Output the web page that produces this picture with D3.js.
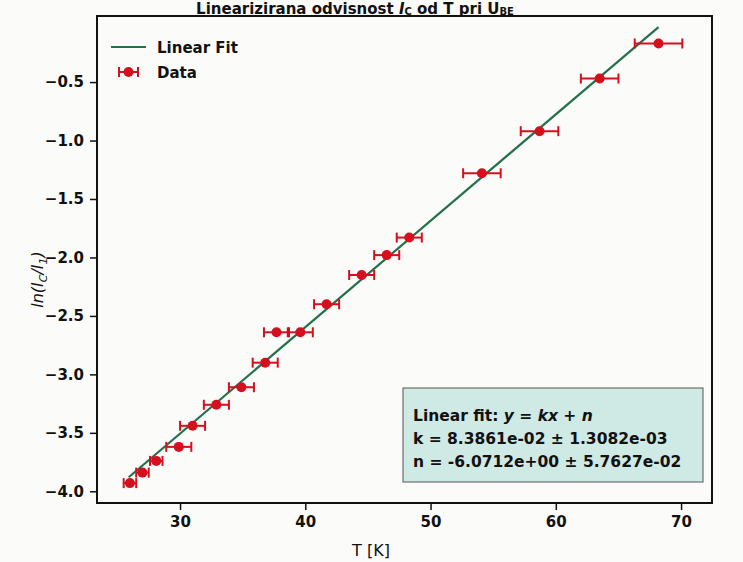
<!DOCTYPE html>
<html>
<head>
    <meta charset="utf-8" />
    <script src="https://d3js.org/d3.v7.min.js"></script>
    <style>
        body { margin: 0; background: #fbfbf9; }
        svg { font-family: "DejaVu Sans", sans-serif; }
    </style>
</head>
<body>
    <div id="chart"></div>
    <script>

        // measured points: temperature, ln(Ic/I1), x error
        const temps = [26.0, 27.0, 28.1, 29.9, 31.0, 32.9, 34.9, 36.8, 37.7, 39.6, 41.7, 44.5, 46.5, 48.3, 54.1, 58.7, 63.5, 68.2];
        const lnRatio = [-3.93, -3.84, -3.74, -3.62, -3.44, -3.26, -3.11, -2.90, -2.64, -2.64, -2.40, -2.15, -1.98, -1.83, -1.28, -0.92, -0.47, -0.17];
        const tempErr = [0.5, 0.5, 0.5, 1.0, 1.0, 1.0, 1.0, 1.0, 1.0, 1.0, 1.0, 1.0, 1.0, 1.0, 1.5, 1.5, 1.5, 1.9];

        // fit line as drawn
        const fitT = [25.9, 68.2];
        const fitY = [-3.88, -0.03];

        const xTicks = [30, 40, 50, 60, 70];
        const yTicks = [-0.5, -1.0, -1.5, -2.0, -2.5, -3.0, -3.5, -4.0];

        const svgWidth = 743;
        const svgHeight = 562;
        const margin = { top: 16, right: 31, bottom: 59, left: 97 };
        const chartWidth = svgWidth - margin.left - margin.right;
        const chartHeight = svgHeight - margin.top - margin.bottom;

        const svg = d3.select("#chart")
            .append("svg")
            .attr("width", svgWidth)
            .attr("height", svgHeight);

        const chart = svg.append("g")
            .attr("transform", `translate(${margin.left}, ${margin.top})`);

        // scales
        const xScale = d3.scaleLinear()
            .domain([23.37, 72.47])
            .range([0, chartWidth]);

        const yScale = d3.scaleLinear()
            .domain([-4.10, 0.065])
            .range([chartHeight, 0]);

        const red = "#d4101e";
        const green = "#23704a";

        // fit line
        chart.append("line")
            .attr("x1", xScale(fitT[0]))
            .attr("y1", yScale(fitY[0]))
            .attr("x2", xScale(fitT[1]))
            .attr("y2", yScale(fitY[1]))
            .attr("stroke", green)
            .attr("stroke-width", 2.2);

        // error bars
        const pts = temps.map((t, i) => ({ t: t, y: lnRatio[i], e: tempErr[i] }));
        const errs = chart.selectAll(".err")
            .data(pts)
            .enter().append("g")
            .attr("class", "err")
            .attr("stroke", red)
            .attr("stroke-width", 2);

        errs.append("line")
            .attr("x1", d => xScale(d.t - d.e))
            .attr("x2", d => xScale(d.t + d.e))
            .attr("y1", d => yScale(d.y))
            .attr("y2", d => yScale(d.y));
        errs.append("line")
            .attr("x1", d => xScale(d.t - d.e))
            .attr("x2", d => xScale(d.t - d.e))
            .attr("y1", d => yScale(d.y) - 5)
            .attr("y2", d => yScale(d.y) + 5);
        errs.append("line")
            .attr("x1", d => xScale(d.t + d.e))
            .attr("x2", d => xScale(d.t + d.e))
            .attr("y1", d => yScale(d.y) - 5)
            .attr("y2", d => yScale(d.y) + 5);

        chart.selectAll(".dot")
            .data(pts)
            .enter().append("circle")
            .attr("class", "dot")
            .attr("cx", d => xScale(d.t))
            .attr("cy", d => yScale(d.y))
            .attr("r", 5)
            .attr("fill", red);

        // axes
        const xAxis = d3.axisBottom(xScale).tickValues(xTicks).tickFormat(d3.format("d")).tickSize(7).tickPadding(6);
        const gx = chart.append("g")
            .attr("transform", `translate(0, ${chartHeight})`)
            .call(xAxis);

        const yAxis = d3.axisLeft(yScale).tickValues(yTicks)
            .tickFormat(d => d3.format(".1f")(d).replace("-", "\u2212"))
            .tickSize(7).tickPadding(6);
        const gy = chart.append("g").call(yAxis);

        [gx, gy].forEach(g => {
            g.select(".domain").remove();
            g.selectAll("line").attr("stroke", "#111").attr("stroke-width", 1.5);
            g.selectAll("text").attr("fill", "#111").style("font-size", "15px")
                .style("font-family", "DejaVu Sans").style("font-weight", "bold");
        });

        // frame
        chart.append("rect")
            .attr("width", chartWidth)
            .attr("height", chartHeight)
            .attr("fill", "none")
            .attr("stroke", "#111")
            .attr("stroke-width", 2);

        // labels
        svg.append("text")
            .attr("x", 371)
            .attr("y", 556)
            .attr("text-anchor", "middle")
            .style("font-size", "16px")
            .attr("fill", "#111")
            .text("T [K]");

        const yl = svg.append("text")
            .attr("transform", `translate(43, ${margin.top + chartHeight / 2 + 20}) rotate(-90)`)
            .attr("text-anchor", "middle")
            .style("font-size", "16px")
            .style("font-style", "italic")
            .attr("fill", "#111");
        yl.append("tspan").text("ln(I");
        yl.append("tspan").attr("dy", 4).style("font-size", "11px").text("C");
        yl.append("tspan").attr("dy", -4).text("/I");
        yl.append("tspan").attr("dy", 4).style("font-size", "11px").text("1");
        yl.append("tspan").attr("dy", -4).text(")");

        const title = svg.append("text")
            .attr("x", 355)
            .attr("y", 14)
            .attr("text-anchor", "middle")
            .style("font-size", "15px")
            .style("font-weight", "bold")
            .attr("fill", "#111");
        title.append("tspan").text("Linearizirana odvisnost ");
        title.append("tspan").style("font-style", "italic").text("I");
        title.append("tspan").attr("dy", 1).style("font-size", "10px").text("C");
        title.append("tspan").attr("dy", -1).text(" od T pri U");
        title.append("tspan").attr("dy", 1).style("font-size", "10px").text("BE");

        // legend
        const legend = svg.append("g");
        legend.append("line")
            .attr("x1", 111).attr("x2", 146)
            .attr("y1", 47).attr("y2", 47)
            .attr("stroke", green).attr("stroke-width", 2.2);
        legend.append("text")
            .attr("x", 157).attr("y", 53)
            .style("font-size", "15px").style("font-weight", "bold")
            .attr("fill", "#111").text("Linear Fit");
        const li = legend.append("g").attr("stroke", red).attr("stroke-width", 2);
        li.append("line").attr("x1", 119).attr("x2", 138).attr("y1", 72).attr("y2", 72);
        li.append("line").attr("x1", 119).attr("x2", 119).attr("y1", 67).attr("y2", 77);
        li.append("line").attr("x1", 138).attr("x2", 138).attr("y1", 67).attr("y2", 77);
        legend.append("circle").attr("cx", 128.5).attr("cy", 72).attr("r", 5).attr("fill", red);
        legend.append("text")
            .attr("x", 157).attr("y", 78)
            .style("font-size", "15px").style("font-weight", "bold")
            .attr("fill", "#111").text("Data");

        // fit info box
        const box = svg.append("g");
        box.append("rect")
            .attr("x", 403).attr("y", 388)
            .attr("width", 300).attr("height", 94)
            .attr("fill", "#cfe9e4")
            .attr("stroke", "#555")
            .attr("stroke-width", 1);
        const boxLines = [
            "k = 8.3861e-02 \u00b1 1.3082e-03",
            "n = -6.0712e+00 \u00b1 5.7627e-02"
        ];
        const t0 = box.append("text")
            .attr("x", 413).attr("y", 421)
            .style("font-size", "15.5px").style("font-weight", "bold").attr("fill", "#111");
        t0.append("tspan").text("Linear fit: ");
        t0.append("tspan").style("font-style", "italic").text("y");
        t0.append("tspan").text(" = ");
        t0.append("tspan").style("font-style", "italic").text("kx");
        t0.append("tspan").text(" + ");
        t0.append("tspan").style("font-style", "italic").text("n");
        box.selectAll(".bl")
            .data(boxLines)
            .enter().append("text")
            .attr("class", "bl")
            .attr("x", 413).attr("y", (d, i) => 444 + i * 23)
            .style("font-size", "15.5px").style("font-weight", "bold")
            .attr("fill", "#111").text(d => d);

    </script>
</body>
</html>
